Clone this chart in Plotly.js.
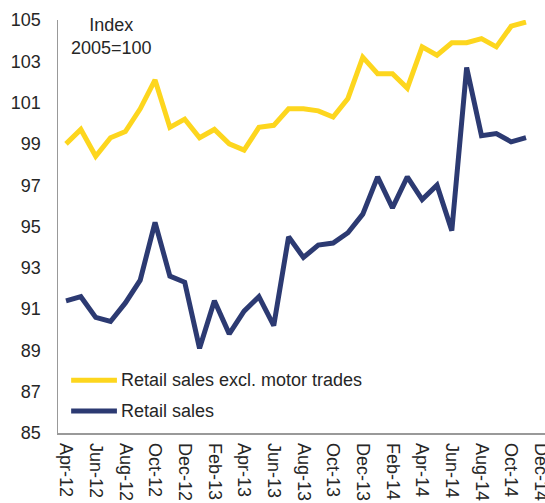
<!DOCTYPE html>
<html>
<head>
<meta charset="utf-8">
<script src="https://cdn.plot.ly/plotly-3.0.1.min.js"></script>
<style>html,body{margin:0;padding:0;background:#fff;}#chart{width:545px;height:503px;}</style>
</head>
<body>
<div id="chart"></div>
<script>
const months = ["Apr-12","May-12","Jun-12","Jul-12","Aug-12","Sep-12","Oct-12","Nov-12","Dec-12",
  "Jan-13","Feb-13","Mar-13","Apr-13","May-13","Jun-13","Jul-13","Aug-13","Sep-13","Oct-13","Nov-13","Dec-13",
  "Jan-14","Feb-14","Mar-14","Apr-14","May-14","Jun-14","Jul-14","Aug-14","Sep-14","Oct-14","Nov-14","Dec-14"];
const exclMotor = [99.0,99.7,98.4,99.3,99.6,100.7,102.1,99.8,100.2,
  99.3,99.7,99.0,98.7,99.8,99.9,100.7,100.7,100.6,100.3,101.2,103.2,
  102.4,102.4,101.7,103.7,103.3,103.9,103.9,104.1,103.7,104.7,104.9,null];
const retailSales = [91.4,91.6,90.6,90.4,91.3,92.4,95.2,92.6,92.3,
  89.1,91.4,89.8,90.9,91.6,90.2,94.5,93.5,94.1,94.2,94.7,95.6,
  97.4,95.9,97.4,96.3,97.0,94.8,102.7,99.4,99.5,99.1,99.3,null];
const seriesNames = ["Retail sales excl. motor trades","Retail sales"];
const seriesColors = ["#FDD61E","#2C3A72"];
const yTicks = [85,87,89,91,93,95,97,99,101,103,105];

const font = {family:"Liberation Sans, Arial, sans-serif", size:18, color:"#262626"};
const traces = [
  {x: months, y: exclMotor, name: seriesNames[0], type:"scatter", mode:"lines",
   line:{color:seriesColors[0], width:5}},
  {x: months, y: retailSales, name: seriesNames[1], type:"scatter", mode:"lines",
   line:{color:seriesColors[1], width:5}}
];
// custom legend (line samples + labels) placed in paper coordinates
const legendY = [0.128, 0.053];
const shapes = seriesNames.map((n,i)=>({type:"line", xref:"paper", yref:"paper",
  x0:0.027, x1:0.121, y0:legendY[i], y1:legendY[i],
  line:{color:seriesColors[i], width:5}}));
const annotations = seriesNames.map((n,i)=>({xref:"paper", yref:"paper", x:0.125, y:legendY[i],
  xanchor:"left", yanchor:"middle", text:n, showarrow:false, font:font}));
annotations.push({xref:"paper", yref:"paper", x:0.11, y:1.018, xanchor:"center", yanchor:"top",
  text:"Index<br>2005=100", showarrow:false, font:font, align:"center"});

const layout = {
  width:545, height:503,
  margin:{l:58, r:0, t:20, b:70},
  paper_bgcolor:"#fff", plot_bgcolor:"#fff",
  font: font,
  showlegend:false,
  xaxis:{type:"category", categoryorder:"array", categoryarray: months,
         range:[-0.54, 32.28], tickmode:"linear", tick0:0, dtick:2, tickangle:90,
         showline:true, linecolor:"#999", linewidth:1.5, ticks:"", showgrid:false, zeroline:false,
         tickfont:font, ticklabelstandoff:5, fixedrange:true},
  yaxis:{range:[85,105], tickvals:yTicks, ticktext:yTicks.map(String),
         showline:true, linecolor:"#999", linewidth:1.5, ticks:"", showgrid:false, zeroline:false,
         tickfont:font, ticklabelstandoff:12, fixedrange:true},
  shapes: shapes,
  annotations: annotations
};
Plotly.newPlot("chart", traces, layout, {displayModeBar:false, staticPlot:true});
</script>
</body>
</html>
